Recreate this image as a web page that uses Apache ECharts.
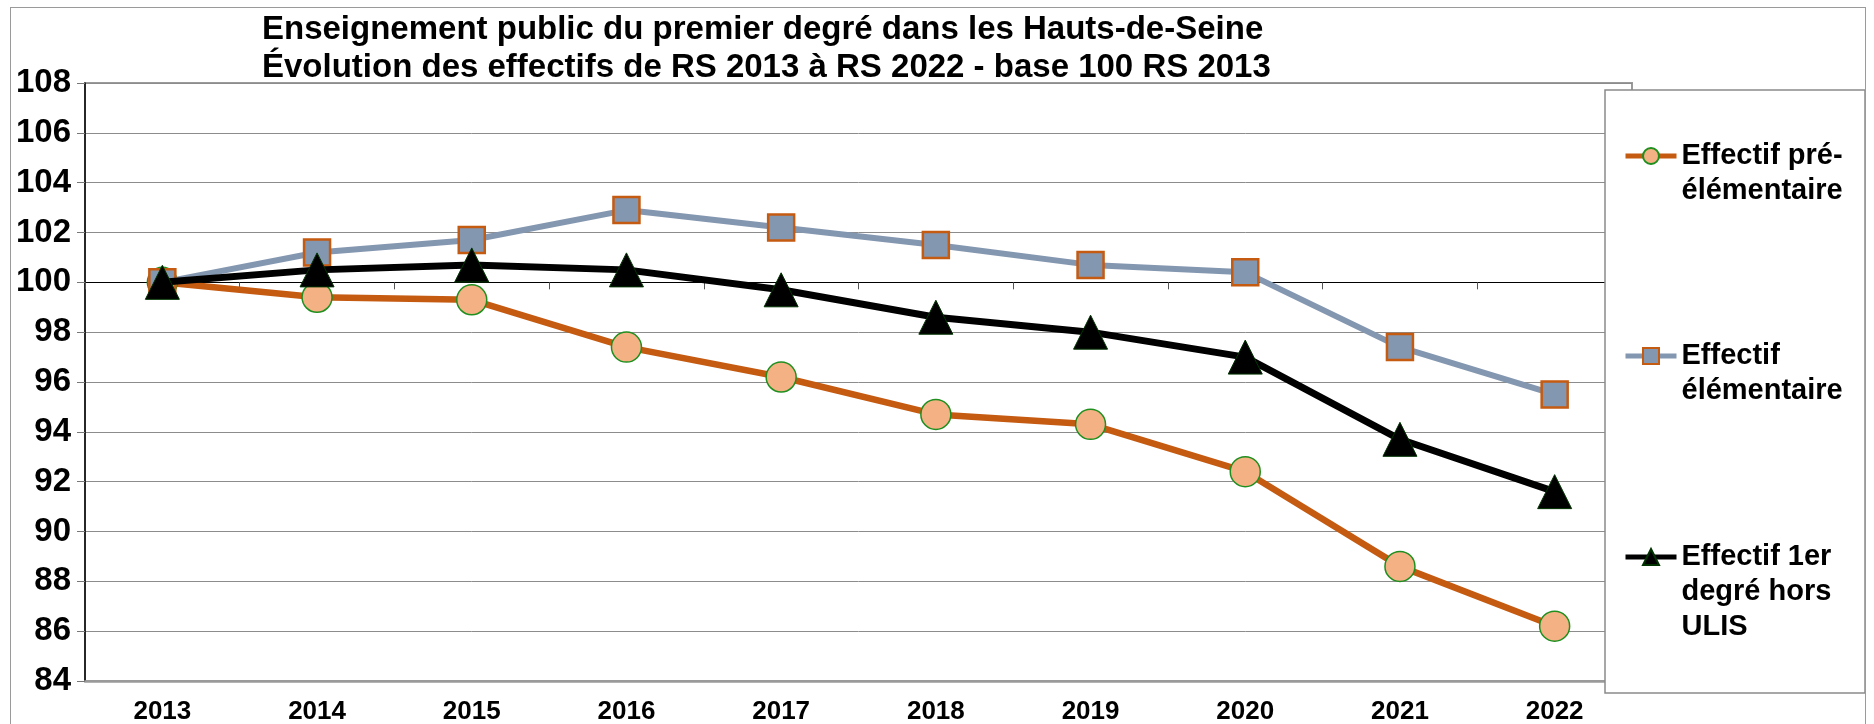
<!DOCTYPE html>
<html>
<head>
<meta charset="utf-8">
<script src="https://cdn.jsdelivr.net/npm/echarts@6/dist/echarts.min.js"></script>
<style>
  html, body { margin: 0; padding: 0; background: #fff; }
  #wrap { position: relative; width: 1874px; height: 724px; overflow: hidden; }
  #chart { position: absolute; left: 0; top: 0; width: 1874px; height: 724px; }
  #frame { position: absolute; left: 10px; top: 7px; width: 1856px; height: 740px;
           border: 1px solid #9a9a9a; box-sizing: border-box; pointer-events: none; }
</style>
</head>
<body>
<div id="wrap">
  <div id="chart"></div>
  <div id="frame"></div>
</div>
<script>
// ---- data ----
const categories = ['2013', '2014', '2015', '2016', '2017', '2018', '2019', '2020', '2021', '2022'];
const seriesNames = ['Effectif pré-élémentaire', 'Effectif élémentaire', 'Effectif 1er degré hors ULIS'];
const legendLabels = ['Effectif pré-\nélémentaire', 'Effectif\nélémentaire', 'Effectif 1er\ndegré hors\nULIS'];
const preElementaire = [100, 99.4, 99.3, 97.4, 96.2, 94.7, 94.3, 92.4, 88.6, 86.2];
const elementaire = [100, 101.2, 101.7, 102.9, 102.2, 101.5, 100.7, 100.4, 97.4, 95.5];
const horsUlis = [100, 100.5, 100.7, 100.5, 99.7, 98.6, 98.0, 97.0, 93.7, 91.6];
const yMin = 84, yMax = 108, yStep = 2, baseValue = 100;
const titleLines = ['Enseignement public du premier degré dans les Hauts-de-Seine',
                    'Évolution des effectifs de RS 2013 à RS 2022 - base 100 RS 2013'];

// ---- layout ----
const W = 1874, H = 724;
const G = { left: 85, top: 83, right: 242, bottom: 43 };
const gridH = H - G.top - G.bottom;
const baseOffset = -gridH * (baseValue - yMin) / (yMax - yMin);
const FONT = '"Liberation Sans", Arial, sans-serif';
const LEG_LH = 35;
const legendLine1 = [156, 356, 557];

const chart = echarts.init(document.getElementById('chart'), null, { renderer: 'canvas' });

// pad each wrapped label with empty lines on top so that the (centred) symbol
// lines up with the first text line, as in the reference legend
const labelMap = {};
seriesNames.forEach((n, i) => {
  const nLines = legendLabels[i].split('\n').length;
  labelMap[n] = '\n'.repeat(nLines - 1) + legendLabels[i];
});

const legends = seriesNames.map((n, i) => {
  const nLines = legendLabels[i].split('\n').length;
  const padTop = (nLines - 1) * LEG_LH;
  return {
    show: true,
    data: [n],
    orient: 'vertical',
    left: 1623,
    top: legendLine1[i] - LEG_LH / 2 - padTop,
    padding: 0,
    itemWidth: 51,
    itemHeight: 20,
    selectedMode: false,
    z: 60,
    lineStyle: { width: 5 },
    formatter: (name) => labelMap[name],
    textStyle: {
      fontFamily: FONT, fontSize: 29, fontWeight: 'bold', color: '#000',
      lineHeight: LEG_LH
    }
  };
});

const option = {
  animation: false,
  backgroundColor: '#fff',
  title: {
    text: titleLines.join('\n'),
    left: 262, top: 11, padding: 0,
    textStyle: { fontFamily: FONT, fontSize: 33, fontWeight: 'bold', color: '#000', lineHeight: 38 }
  },
  legend: legends,
  graphic: [{
    type: 'rect', z: 50,
    shape: { x: 1605, y: 90, width: 260, height: 603 },
    style: { fill: '#fff', stroke: '#8a8a8a', lineWidth: 1.5 }
  }],
  grid: {
    left: G.left, top: G.top, right: G.right, bottom: G.bottom,
    show: true, borderColor: '#9a9a9a', borderWidth: 2, backgroundColor: 'transparent',
    containLabel: false, outerBoundsMode: 'none'
  },
  xAxis: [{
    type: 'category', data: categories, boundaryGap: true,
    axisLine: { show: true, lineStyle: { color: '#9a9a9a', width: 2.5 } },
    axisTick: { show: false },
    splitLine: { show: false },
    axisLabel: { fontFamily: FONT, fontSize: 26, fontWeight: 'bold', color: '#000', margin: 18, interval: 0 }
  }, {
    type: 'category', data: categories, boundaryGap: true, position: 'bottom',
    offset: baseOffset,
    axisLine: { show: true, lineStyle: { color: '#000', width: 1.2 } },
    axisTick: { show: true, inside: false, length: 7, lineStyle: { color: '#555', width: 1 } },
    axisLabel: { show: false },
    splitLine: { show: false }
  }],
  yAxis: {
    type: 'value', min: yMin, max: yMax, interval: yStep,
    axisLine: { show: true, lineStyle: { color: '#000', width: 1.5 } },
    axisTick: { show: true, length: 8, lineStyle: { color: '#777', width: 1 } },
    splitLine: { show: true, lineStyle: { color: '#8c8c8c', width: 1 } },
    axisLabel: { fontFamily: FONT, fontSize: 33, fontWeight: 'bold', color: '#000', margin: 14 }
  },
  series: [{
    name: seriesNames[0], type: 'line', data: preElementaire,
    symbol: 'circle', symbolSize: 30,
    lineStyle: { color: '#C55A11', width: 6.5 },
    itemStyle: { color: '#F4B183', borderColor: '#1f8f1f', borderWidth: 1.5 },
    z: 3
  }, {
    name: seriesNames[1], type: 'line', data: elementaire,
    symbol: 'rect', symbolSize: 26,
    lineStyle: { color: '#8497B0', width: 6 },
    itemStyle: { color: '#8497B0', borderColor: '#C55A11', borderWidth: 2.5 },
    z: 4
  }, {
    name: seriesNames[2], type: 'line', data: horsUlis,
    symbol: 'triangle', symbolSize: 34,
    lineStyle: { color: '#000', width: 7 },
    itemStyle: { color: '#000', borderColor: '#003300', borderWidth: 1 },
    z: 5
  }]
};

chart.setOption(option);
</script>
</body>
</html>
